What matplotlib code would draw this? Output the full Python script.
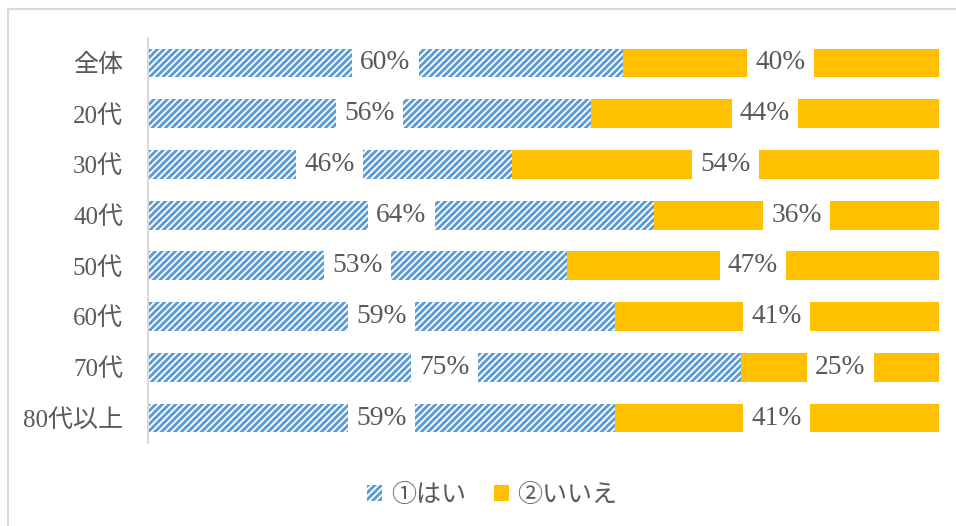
import matplotlib
matplotlib.use("Agg")
import matplotlib.pyplot as plt
from matplotlib.patches import Rectangle, Patch
import numpy as np

# survey answers by age group (percent)
categories = ['全体', '20代', '30代', '40代', '50代', '60代', '70代', '80代以上']
yes = [60, 56, 46, 64, 53, 59, 75, 59]
no = [40, 44, 54, 36, 47, 41, 25, 41]
series_names = ['①はい', '②いいえ']

blue = '#5B9BD5'
orange = '#FFC000'
text_col = '#595959'
grid_col = '#D9D9D9'

plt.rcParams.update({
    'font.family': ['Liberation Serif', 'Noto Sans CJK JP'],
    'hatch.linewidth': 1.7,
})

dpi = 120
fig = plt.figure(figsize=(956 / dpi, 526 / dpi), dpi=dpi)
ax = fig.add_axes([148 / 956, 1 - 443.4 / 526, (939 - 148) / 956, (443.4 - 37.6) / 526])

# light frame around the whole chart area
fig.patches.append(Rectangle((8 / 956, -0.1), 1.2, 1 - 9 / 526 + 0.1,
                             transform=fig.transFigure, fill=False,
                             edgecolor=grid_col, linewidth=1.3))

y = np.arange(len(categories))
h = 0.57
ax.barh(y, yes, height=h, color='white', edgecolor=blue, hatch='//////', linewidth=0)
ax.barh(y, no, left=yes, height=h, color=orange, linewidth=0)

box = dict(boxstyle='square,pad=0.3', facecolor='white', edgecolor='none')
for i in range(len(categories)):
    ax.text(yes[i] / 2, y[i], f'{yes[i]}%', ha='center', va='center',
            fontsize=16.5, color=text_col, bbox=box)
    ax.text(yes[i] + no[i] / 2, y[i], f'{no[i]}%', ha='center', va='center',
            fontsize=16.5, color=text_col, bbox=box)

ax.set_xlim(0, 100)
ax.set_ylim(len(categories) - 0.5, -0.5)
ax.set_yticks(y)
ax.set_yticklabels(categories, fontsize=15, color=text_col)
ax.tick_params(axis='y', length=0, pad=15)
ax.set_xticks([])
for s in ['top', 'right', 'bottom']:
    ax.spines[s].set_visible(False)
ax.spines['left'].set_color(grid_col)
ax.spines['left'].set_linewidth(1.2)

handles = [Patch(facecolor='white', edgecolor=blue, hatch='//////', linewidth=0),
           Patch(facecolor=orange, linewidth=0)]
fig.legend(handles, series_names, loc='center', bbox_to_anchor=(0.515, 0.058),
           ncol=2, frameon=False, fontsize=15, labelcolor=text_col,
           handlelength=0.6, handleheight=0.6, handletextpad=0.35,
           columnspacing=1.1)

fig.savefig('out.png', dpi=dpi)
